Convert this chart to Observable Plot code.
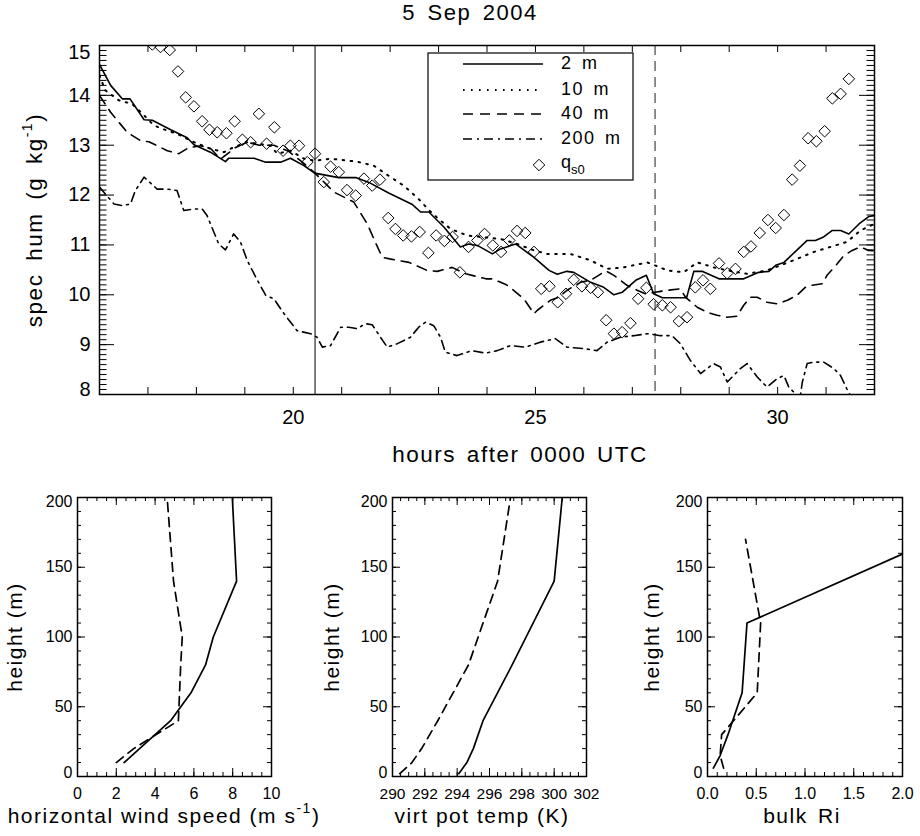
<!DOCTYPE html>
<html><head><meta charset="utf-8">
<script src="https://cdn.jsdelivr.net/npm/d3@7"></script>
<script src="https://cdn.jsdelivr.net/npm/@observablehq/plot@0.6"></script>
<style>
html,body{margin:0;padding:0;background:#fff;}
#fig{position:relative;width:920px;height:836px;background:#fff;overflow:hidden;}
</style></head><body><div id="fig"></div>
<script>
// ---------------- DATA ----------------
const hours2m = [16.0,16.23,16.47,16.63,16.92,17.09,17.47,17.81,17.95,18.29,18.60,18.67,19.19,19.43,19.74,19.94,20.22,20.44,20.94,21.29,21.59,21.97,22.46,22.63,22.80,23.11,23.45,23.62,23.80,24.11,24.28,24.59,24.97,25.28,25.45,25.65,25.79,26.14,26.41,26.62,26.79,27.07,27.29,27.44,27.62,28.12,28.27,28.44,28.79,29.30,29.61,29.82,29.96,30.13,30.61,30.78,30.95,31.13,31.30,31.47,31.68,31.88,32.0];
const q2m = [14.62,14.20,13.93,13.93,13.51,13.50,13.31,13.15,13.01,12.86,12.67,12.74,12.74,12.66,12.66,12.74,12.59,12.44,12.35,12.35,12.24,12.04,11.81,11.66,11.66,11.36,10.96,11.02,10.99,10.82,10.92,11.02,10.75,10.49,10.41,10.47,10.45,10.25,10.15,10.00,10.05,10.29,10.39,10.02,9.94,9.94,10.47,10.47,10.32,10.32,10.45,10.47,10.59,10.65,11.09,11.09,11.16,11.29,11.29,11.22,11.42,11.57,11.59];

const hours10m = [16.0,16.12,16.40,16.67,16.92,17.12,17.29,17.60,17.95,18.29,18.57,18.77,19.05,19.26,19.53,19.67,19.94,20.22,20.44,20.77,21.32,21.66,22.01,22.28,22.59,22.80,23.00,23.25,23.59,23.87,24.28,24.62,24.97,25.24,25.72,26.14,26.48,26.82,27.31,27.72,28.06,28.34,28.68,28.96,29.37,29.78,30.06,30.40,30.75,31.09,31.43,31.71,31.99];
const q10m = [14.40,14.10,13.90,13.83,13.60,13.40,13.33,13.23,13.06,12.93,12.86,12.96,13.06,13.03,12.99,12.83,12.89,12.73,12.69,12.73,12.67,12.59,12.36,12.19,11.92,11.70,11.52,11.32,11.19,11.16,11.12,11.02,10.89,10.82,10.82,10.69,10.52,10.55,10.65,10.49,10.45,10.65,10.55,10.49,10.42,10.49,10.59,10.72,10.86,10.96,11.06,11.29,11.42];

const hours40m = [16.0,16.23,16.57,16.85,17.02,17.40,17.64,17.84,18.09,18.30,18.50,18.80,19.05,19.30,19.60,19.90,20.20,20.44,20.84,21.25,21.53,21.71,21.84,21.99,22.39,22.76,22.97,23.28,23.56,23.98,24.11,24.40,24.55,24.76,24.97,25.04,25.31,25.48,25.65,25.93,26.14,26.45,26.62,26.89,27.10,27.27,27.47,27.72,27.99,28.10,28.34,28.54,28.75,28.96,29.16,29.30,29.44,29.58,29.78,29.99,30.20,30.40,30.57,30.71,30.92,31.02,31.23,31.37,31.54,31.71,31.88,32.0];
const q40m = [14.00,13.66,13.26,13.09,13.07,12.89,12.83,12.95,12.99,12.93,12.72,12.95,13.06,13.00,13.00,12.88,12.65,12.45,12.06,11.86,11.42,11.02,10.75,10.72,10.65,10.49,10.47,10.55,10.42,10.32,10.32,10.20,10.09,9.92,9.62,9.69,9.89,9.95,10.09,10.25,10.29,10.48,10.39,10.19,10.09,10.02,10.05,10.09,10.12,9.95,9.75,9.65,9.59,9.55,9.57,9.79,9.95,9.95,9.85,9.82,9.89,9.99,10.15,10.19,10.22,10.39,10.62,10.79,10.89,10.96,10.89,10.88];

const hours200m = [16.0,16.30,16.47,16.64,16.74,16.92,17.19,17.40,17.60,17.74,17.95,18.12,18.22,18.36,18.46,18.60,18.70,18.77,18.91,19.05,19.26,19.43,19.60,19.81,20.08,20.36,20.49,20.60,20.77,20.98,21.15,21.32,21.49,21.63,21.80,21.94,22.15,22.42,22.59,22.73,22.90,23.04,23.14,23.38,23.69,23.97,24.21,24.48,24.79,25.10,25.41,25.65,26.00,26.27,26.48,26.76,27.03,27.31,27.58,27.82,27.99,28.20,28.41,28.68,28.82,28.96,29.23,29.37,29.58,29.78,29.99,30.13,30.23,30.37,30.45,30.51,30.61,30.75,30.95,31.16,31.30,31.43,31.60,32.0];
const q200m = [12.16,11.82,11.79,11.82,12.09,12.36,12.12,12.12,12.09,11.69,11.72,11.72,11.59,11.26,11.02,10.90,11.09,11.22,11.06,10.69,10.29,9.99,9.92,9.62,9.28,9.22,9.15,8.95,8.98,9.35,9.35,9.32,9.42,9.40,9.15,8.95,9.02,9.15,9.35,9.45,9.38,9.15,8.85,8.78,8.88,8.83,8.88,8.98,8.95,9.05,9.12,8.95,8.92,8.88,9.05,9.15,9.18,9.22,9.18,9.18,9.02,8.68,8.42,8.62,8.55,8.25,8.52,8.62,8.35,8.15,8.32,8.38,8.15,8.01,7.85,8.25,8.62,8.65,8.65,8.52,8.38,8.11,7.80,7.65];

const hoursQs0 = [17.09,17.26,17.45,17.62,17.78,17.95,18.12,18.27,18.43,18.62,18.79,18.95,19.12,19.29,19.45,19.61,19.79,19.94,20.12,20.29,20.45,20.63,20.77,20.94,21.11,21.29,21.46,21.63,21.79,21.96,22.11,22.27,22.44,22.61,22.79,22.95,23.12,23.29,23.44,23.62,23.80,23.95,24.12,24.29,24.46,24.62,24.79,24.97,25.12,25.29,25.46,25.63,25.79,25.96,26.14,26.29,26.46,26.62,26.79,26.96,27.12,27.29,27.44,27.62,27.79,27.96,28.13,28.30,28.46,28.61,28.79,28.96,29.13,29.30,29.45,29.63,29.80,29.96,30.13,30.30,30.46,30.63,30.80,30.97,31.13,31.30,31.47];
const qs0 = [15.02,14.97,14.91,14.48,13.96,13.78,13.48,13.31,13.26,13.24,13.48,13.11,13.06,13.63,13.03,13.36,12.89,12.99,12.99,12.66,12.83,12.26,12.57,12.46,12.10,11.99,12.33,12.19,12.31,11.54,11.32,11.19,11.17,11.26,10.84,11.19,11.08,11.16,10.45,10.96,11.09,11.22,10.99,10.86,11.09,11.28,11.24,10.86,10.12,10.17,9.85,10.02,10.30,10.17,10.14,10.05,9.49,9.22,9.25,9.43,9.92,10.14,9.81,9.79,9.75,9.47,9.55,10.15,10.29,10.12,10.63,10.43,10.52,10.86,10.97,11.24,11.50,11.34,11.60,12.31,12.59,13.14,13.08,13.28,13.94,14.03,14.33];

const markHourSolid = [20.45];
const markHourDashed = [27.47];
const hourTickLabels = [20, 25, 30];
const qTickLabels = [8, 9, 10, 11, 12, 13, 14, 15];
const legendLabels = ["2 m", "10 m", "40 m", "200 m"];

// wind speed profiles
const windHeightsSolid = [10, 20, 40, 60, 80, 100, 140, 200];
const windSolid = [2.4, 3.2, 4.8, 5.85, 6.6, 7.0, 8.2, 7.98];
const windHeightsDash = [10, 20, 40, 80, 100, 140, 200];
const windDash = [2.0, 2.9, 5.2, 5.32, 5.4, 4.95, 4.62];
const windTickLabels = [0, 2, 4, 6, 8, 10];

// virtual potential temperature profiles
const thetaHeights = [2, 10, 20, 40, 80, 140, 200];
const thetaSolid = [294.1, 294.6, 295.0, 295.6, 297.4, 300.0, 300.5];
const thetaDash = [290.45, 291.2, 291.8, 292.8, 294.7, 296.5, 297.3];
const thetaTickLabels = [290, 292, 294, 296, 298, 300, 302];

// bulk Richardson number profiles
const riHeights = [6, 15, 30, 60, 110, 170];
const riSolid = [0.06, 0.13, 0.21, 0.355, 0.405, 2.34];
const riDash = [0.165, 0.13, 0.145, 0.51, 0.545, 0.39];
const riTickLabels = [0, 0.5, 1.0, 1.5, 2.0];

const heightTickLabels = [0, 50, 100, 150, 200];

// ---------------- DRAWING ----------------
const FONT = '"Liberation Sans", Arial, Helvetica, sans-serif';
const fig = document.getElementById("fig");
function place(el, left, top) {
  el.style.position = "absolute";
  el.style.left = left + "px";
  el.style.top = top + "px";
  fig.appendChild(el);
}
const rows = (xs, ys) => xs.map((x, i) => ({x, y: ys[i]}));
const range = (a, b, step) => d3.range(Math.round((b - a) / step) + 1).map(i => +(a + i * step).toFixed(4));
const first = a => a.slice(0, 1), last = a => a.slice(-1), inner = a => a.slice(1, -1);

// ---- main panel ----
const M = {w: 920, h: 470, ml: 99, mr: 46, mt: 45, mb: 76};
const miw = M.w - M.ml - M.mr, mih = M.h - M.mt - M.mb;
const hourTicks = range(16, 32, 1);
const qMinor = range(8, 15, 0.1);
const qMajor = range(8, 15, 1);
const lineStyle = {x: "x", y: "y", stroke: "#000", strokeWidth: 1.6, clip: true};
const yLab = {tickSize: 0, tickPadding: 9, fontSize: 20, label: null, tickFormat: d => String(d)};

const mainPlot = Plot.plot({
  width: M.w, height: M.h,
  marginLeft: M.ml, marginRight: M.mr, marginTop: M.mt, marginBottom: M.mb,
  style: {fontFamily: FONT, fontSize: "20px", color: "#000", background: "transparent", overflow: "visible"},
  x: {domain: [16, 32], label: null},
  y: {domain: [8, 15], label: null},
  marks: [
    Plot.ruleX(markHourSolid, {x: d => d, stroke: "#000", strokeWidth: 1}),
    Plot.ruleX(markHourDashed, {x: d => d, stroke: "#444", strokeWidth: 1.2, strokeDasharray: "10,6"}),
    Plot.line(rows(hours200m, q200m), {...lineStyle, strokeDasharray: "9,5,2,5"}),
    Plot.line(rows(hours40m, q40m), {...lineStyle, strokeDasharray: "10,7"}),
    Plot.line(rows(hours10m, q10m), {...lineStyle, strokeWidth: 2, strokeDasharray: "1.6,6.4"}),
    Plot.line(rows(hours2m, q2m), {...lineStyle}),
    Plot.dot(rows(hoursQs0, qs0), {x: "x", y: "y", symbol: "diamond2", r: 5.2, stroke: "#000", strokeWidth: 1, fill: "none", clip: true}),
    Plot.ruleX(hourTicks, {x: d => d, stroke: "#000", insetTop: mih - 7}),
    Plot.ruleX(hourTicks, {x: d => d, stroke: "#000", insetBottom: mih - 7}),
    Plot.ruleY(qMinor, {y: d => d, stroke: "#000", insetRight: miw - 7.5}),
    Plot.ruleY(qMinor, {y: d => d, stroke: "#000", insetLeft: miw - 7.5}),
    Plot.ruleY(qMajor, {y: d => d, stroke: "#000", insetRight: miw - 15}),
    Plot.ruleY(qMajor, {y: d => d, stroke: "#000", insetLeft: miw - 15}),
    Plot.frame({stroke: "#000", strokeWidth: 1.5}),
    Plot.axisX(hourTickLabels, {tickSize: 0, tickPadding: 15, fontSize: 20, label: null, tickFormat: d => String(d)}),
    Plot.axisY(inner(qTickLabels), yLab),
    Plot.axisY(first(qTickLabels), {...yLab, dy: -5}),
    Plot.axisY(last(qTickLabels), {...yLab, dy: 7})
  ]
});
place(mainPlot, 0, 0);

// ---- profile panels ----
function profilePanel({xDomain, xLabels, xMinorStep, xMajorStep, fmt, series, ml, mr, labelSize}) {
  const W = 300, H = 356, mt = 17, mb = 60;
  const iw = W - ml - mr, ih = H - mt - mb;
  const xMinor = range(xDomain[0], xDomain[1], xMinorStep);
  const xMajor = range(xDomain[0], xDomain[1], xMajorStep);
  const yMinor = range(0, 200, 10);
  const yMajor = range(0, 200, 50);
  const hLab = {tickSize: 0, tickPadding: 5, fontSize: 16, label: null, tickFormat: d => String(d)};
  const marks = [];
  for (const s of series) {
    marks.push(Plot.line(rows(s.xs, s.hs), {x: "x", y: "y", stroke: "#000", strokeWidth: 1.7, clip: true, strokeDasharray: s.dash}));
  }
  marks.push(
    Plot.ruleX(xMinor, {x: d => d, stroke: "#000", insetTop: ih - 4}),
    Plot.ruleX(xMinor, {x: d => d, stroke: "#000", insetBottom: ih - 4}),
    Plot.ruleX(xMajor, {x: d => d, stroke: "#000", insetTop: ih - 8}),
    Plot.ruleX(xMajor, {x: d => d, stroke: "#000", insetBottom: ih - 8}),
    Plot.ruleY(yMinor, {y: d => d, stroke: "#000", insetRight: iw - 4}),
    Plot.ruleY(yMinor, {y: d => d, stroke: "#000", insetLeft: iw - 4}),
    Plot.ruleY(yMajor, {y: d => d, stroke: "#000", insetRight: iw - 8}),
    Plot.ruleY(yMajor, {y: d => d, stroke: "#000", insetLeft: iw - 8}),
    Plot.frame({stroke: "#000", strokeWidth: 1.5}),
    Plot.axisX(xLabels, {tickSize: 0, tickPadding: 11, fontSize: labelSize, label: null, tickFormat: fmt}),
    Plot.axisY(inner(heightTickLabels), hLab),
    Plot.axisY(first(heightTickLabels), {...hLab, dy: -4}),
    Plot.axisY(last(heightTickLabels), {...hLab, dy: 4})
  );
  return Plot.plot({
    width: W, height: H, marginLeft: ml, marginRight: mr, marginTop: mt, marginBottom: mb,
    style: {fontFamily: FONT, fontSize: "16px", color: "#000", background: "transparent", overflow: "visible"},
    x: {domain: xDomain, label: null},
    y: {domain: [0, 200], label: null},
    marks
  });
}

place(profilePanel({
  xDomain: [0, 10], xLabels: windTickLabels, xMinorStep: 0.5, xMajorStep: 2, fmt: d => String(d), ml: 77, mr: 29, labelSize: 16,
  series: [{xs: windSolid, hs: windHeightsSolid}, {xs: windDash, hs: windHeightsDash, dash: "9,6"}]
}), 0, 480);

place(profilePanel({
  xDomain: [290, 302], xLabels: thetaTickLabels, xMinorStep: 0.5, xMajorStep: 2, fmt: d => String(d), ml: 72, mr: 34, labelSize: 15.5,
  series: [{xs: thetaSolid, hs: thetaHeights}, {xs: thetaDash, hs: thetaHeights, dash: "9,6"}]
}), 320, 480);

place(profilePanel({
  xDomain: [0, 2], xLabels: riTickLabels, xMinorStep: 0.1, xMajorStep: 0.5, fmt: d => d.toFixed(1), ml: 87, mr: 18, labelSize: 16,
  series: [{xs: riSolid, hs: riHeights}, {xs: riDash, hs: riHeights, dash: "9,6"}]
}), 620, 480);

// ---- titles, axis titles and legend (overlay) ----
const svg = d3.create("svg").attr("width", 920).attr("height", 836)
  .style("position", "absolute").style("left", "0px").style("top", "0px")
  .style("font-family", FONT).style("pointer-events", "none");

function label(x, y, parts, {size = 21, rotate = 0, anchor = "middle", spacing = 1.5, wordSpacing = 0} = {}) {
  const t = svg.append("text")
    .attr("transform", `translate(${x},${y}) rotate(${rotate})`)
    .attr("text-anchor", anchor).attr("dominant-baseline", "middle")
    .attr("font-size", size).attr("letter-spacing", spacing).attr("word-spacing", wordSpacing)
    .attr("fill", "#000");
  for (const p of parts) {
    if (typeof p === "string") t.append("tspan").text(p);
    else t.append("tspan").attr("baseline-shift", p.shift).attr("font-size", p.size).text(p.text);
  }
  return t;
}

label(470, 14, ["5 Sep 2004"], {size: 22, wordSpacing: 4});
label(520, 456, ["hours after 0000 UTC"], {size: 22.5, wordSpacing: 3});
label(36, 220, ["spec hum (g kg", {text: "-1", shift: "super", size: 14}, ")"], {size: 22.5, rotate: -90, wordSpacing: 5});

label(164, 817, ["horizontal wind speed (m s", {text: "-1", shift: "super", size: 14}, ")"], {size: 21});
label(482, 817, ["virt pot temp (K)"], {size: 21});
label(802, 817, ["bulk Ri"], {size: 21, wordSpacing: 3});
for (const cx of [15.5, 333, 653]) label(cx, 637, ["height (m)"], {size: 21, rotate: -90});

// legend
const lg = svg.append("g");
lg.append("rect").attr("x", 428).attr("y", 53).attr("width", 205).attr("height", 127)
  .attr("fill", "#fff").attr("stroke", "#000").attr("stroke-width", 1.2);
const legendDash = [null, "1.6,6.4", "10,7", "9,5,2,5"];
const legendRows = [64, 90, 114, 139];
legendLabels.forEach((txt, i) => {
  lg.append("line").attr("x1", 463).attr("x2", 543).attr("y1", legendRows[i]).attr("y2", legendRows[i])
    .attr("stroke", "#000").attr("stroke-width", i === 1 ? 2 : 1.6)
    .attr("stroke-dasharray", legendDash[i]);
  lg.append("text").attr("x", 561).attr("y", legendRows[i]).attr("dominant-baseline", "middle")
    .attr("font-size", 18).attr("letter-spacing", 1.5).attr("word-spacing", 3).text(txt);
});
lg.append("path").attr("d", d3.symbol(d3.symbolDiamond2, Math.PI * 5.2 * 5.2)()).attr("transform", "translate(539,165)")
  .attr("fill", "none").attr("stroke", "#000");
const qt = lg.append("text").attr("x", 561).attr("y", 163).attr("dominant-baseline", "middle").attr("font-size", 18);
qt.append("tspan").text("q");
qt.append("tspan").attr("baseline-shift", "sub").attr("font-size", 13).text("s0");

fig.appendChild(svg.node());
</script></body></html>
